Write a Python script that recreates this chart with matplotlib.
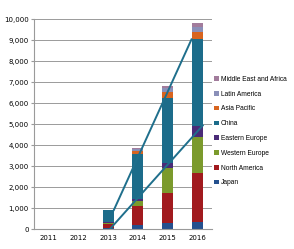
import matplotlib
matplotlib.use('Agg')
import matplotlib.pyplot as plt
import numpy as np

plt.rcParams['font.family'] = ['Liberation Sans', 'DejaVu Sans']

years = ['2011', '2012', '2013', '2014', '2015', '2016']
regions = ['Japan', 'North America', 'Western Europe', 'Eastern Europe',
           'China', 'Asia Pacific', 'Latin America', 'Middle East and Africa']
colors = ['#24508e', '#a11a1e', '#7b9a2c', '#4a2b78',
          '#1c6c8a', '#d8641f', '#8a8fb8', '#a27c9c']

japan = [10, 8, 50, 200, 310, 360]
north_america = [10, 10, 200, 900, 1430, 2320]
western_europe = [5, 5, 60, 250, 1160, 1730]
eastern_europe = [0, 0, 30, 100, 240, 510]
china = [5, 5, 560, 2150, 3140, 4130]
asia_pacific = [0, 0, 20, 150, 270, 350]
latin_america = [0, 0, 0, 70, 160, 250]
middle_east_africa = [0, 0, 0, 50, 130, 190]
series = [japan, north_america, western_europe, eastern_europe,
          china, asia_pacific, latin_america, middle_east_africa]

# two trend lines drawn over the bars (x in category index, y in units)
trend1_x = [2.19, 4.81]
trend1_y = [920, 9050]
trend2_x = [2.05, 5.19]
trend2_y = [0, 4950]

fig = plt.figure(figsize=(2.94, 2.49), dpi=100)
ax = fig.add_axes([0.116, 0.079, 0.605, 0.843])

x = np.arange(len(years))
bottom = np.zeros(len(years))
handles = []
for name, vals, c in zip(regions, series, colors):
    h = ax.bar(x, vals, 0.38, bottom=bottom, color=c, label=name, zorder=2)
    handles.append(h)
    bottom += np.array(vals)

ax.plot(trend1_x, trend1_y, color='#1f6f8c', lw=1.4, zorder=3)
ax.plot(trend2_x, trend2_y, color='#1f6f8c', lw=1.4, zorder=3)

ax.set_ylim(0, 10000)
ax.set_xlim(-0.5, 5.5)
ax.set_yticks(np.arange(0, 10001, 1000))
ax.set_yticklabels([f'{v:,}' for v in range(0, 10001, 1000)], fontsize=5,
                   family='DejaVu Sans')
ax.set_xticks(x)
ax.set_xticklabels(years, fontsize=5, family='DejaVu Sans')
ax.grid(axis='y', color='#9a9a9a', lw=0.7, zorder=0)
for s in ['top', 'right']:
    ax.spines[s].set_visible(False)
ax.spines['left'].set_color('#9a9a9a')
ax.spines['bottom'].set_color('#9a9a9a')
ax.tick_params(axis='y', length=2, color='#9a9a9a', pad=2)
ax.tick_params(axis='x', length=0, pad=4)

ax.legend(handles[::-1], regions[::-1], loc='upper left',
          bbox_to_anchor=(0.99, 0.75), frameon=False, fontsize=4.8,
          handlelength=0.7, handleheight=0.7, handletextpad=0.3,
          labelspacing=1.17, borderaxespad=0.2)

fig.savefig('out.png', dpi=100)
